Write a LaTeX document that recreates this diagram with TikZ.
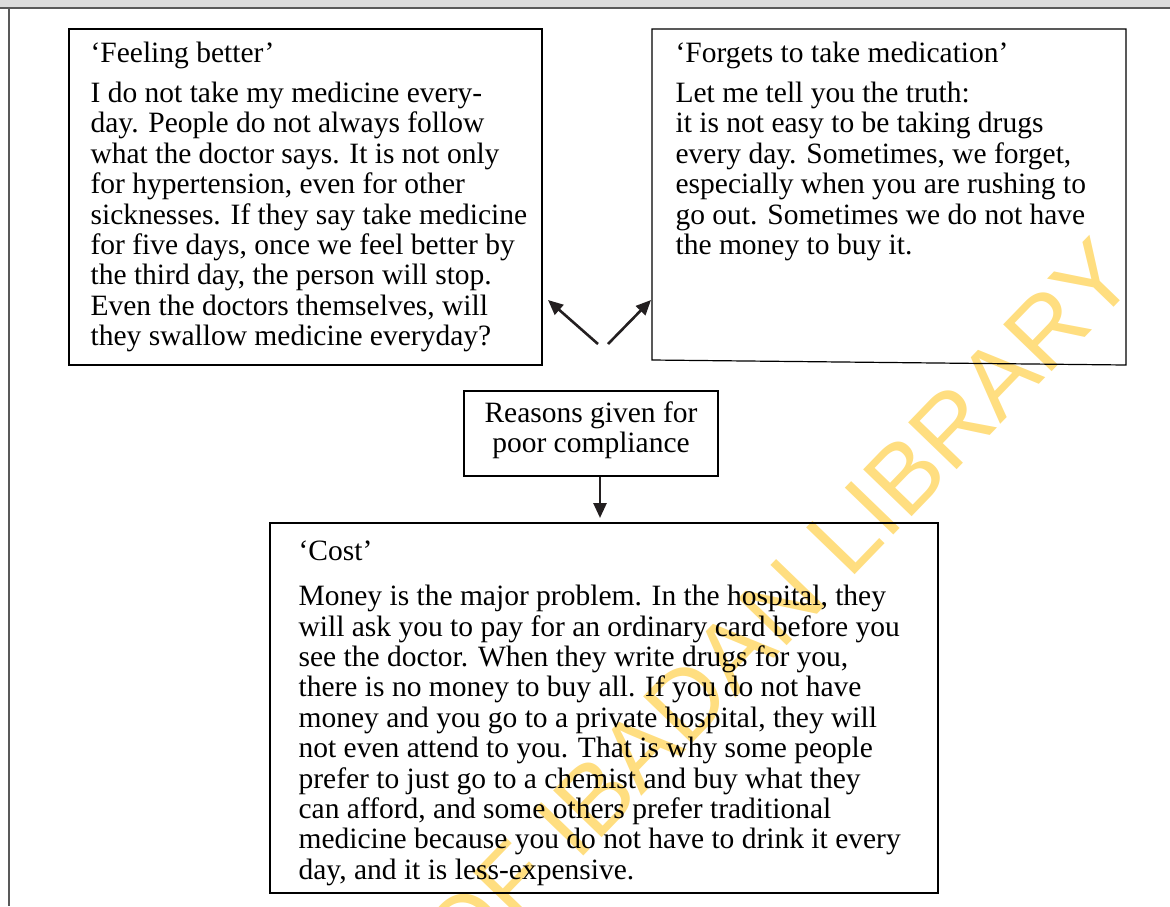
\documentclass[tikz,border=0pt]{standalone}
\usepackage{fontspec}
\setmainfont{Liberation Serif}
\newfontfamily\wmfont{Liberation Sans}
\usepackage{tikz}
\usetikzlibrary{arrows.meta}
\usetikzlibrary{calc}
\definecolor{wmyellow}{RGB}{255,222,128}
\definecolor{hdrgray}{RGB}{220,220,220}
\definecolor{arrowblack}{RGB}{35,31,32}

\begin{document}
\begin{tikzpicture}[x=1pt,y=-1pt,line width=1.2pt]

	\tikzstyle{every node}=[inner sep=0pt,font=\fontsize{29.5}{30.4}\selectfont]
	\tikzstyle{quote}=[anchor=north west,align=left]
	\tikzstyle{arr}=[-{Triangle[length=15pt,width=13pt]},line width=2.6pt,draw=arrowblack]

	\def\fbbox{(69,29) coordinate (fbnw) rectangle (542,365) coordinate (fbse)}
	\def\ftbox{(652,29) coordinate (ftnw) -- (1126,29) -- (1126,365) coordinate (ftse) -- (652,360) -- cycle}
	\def\rsbox{(464,391) coordinate (rsnw) rectangle (718,476) coordinate (rsse)}
	\def\cobox{(270,523) coordinate (conw) rectangle (938,893) coordinate (cose)}

	\useasboundingbox (0,0) rectangle (1170,906);

	% watermark
	\begin{scope}
	\clip (0,0) rectangle (1170,906);
	\node[rotate=46,anchor=base east,text=wmyellow,font=\wmfont\fontsize{98}{98}\selectfont] (wm) at (1140,280) {UNIVERSITY OF IBADAN LIBRARY};
	\end{scope}

	% page strip and frame
	\fill[hdrgray] (0,0) rectangle (1170,8);
	\draw[gray!70!black] (0,8) -- (1170,8);
	\draw[gray!70!black] (9,8) -- (9,906);

	\draw \fbbox;
	\draw \ftbox;
	\draw \rsbox;
	\draw \cobox;

	\node[quote] (fb) at ([shift={(21,12)}]fbnw) {‘Feeling better’\\[10pt]
		I do not take my medicine every-\\
		day. People do not always follow\\
		what the doctor says. It is not only\\
		for hypertension, even for other\\
		sicknesses. If they say take medicine\\
		for five days, once we feel better by\\
		the third day, the person will stop.\\
		Even the doctors themselves, will\\
		they swallow medicine everyday?};

	\node[quote] (ft) at ([shift={(23,12)}]ftnw) {‘Forgets to take medication’\\[10pt]
		Let me tell you the truth:\\
		it is not easy to be taking drugs\\
		every day. Sometimes, we forget,\\
		especially when you are rushing to\\
		go out. Sometimes we do not have\\
		the money to buy it.};

	\node[align=center] (rs) at ($(rsnw)!0.5!(rsse)+(0,-3)$) {Reasons given for\\poor compliance};

	\node[quote] (co) at ([shift={(28,17)}]conw) {‘Cost’\\[15pt]
		Money is the major problem. In the hospital, they\\
		will ask you to pay for an ordinary card before you\\
		see the doctor. When they write drugs for you,\\
		there is no money to buy all. If you do not have\\
		money and you go to a private hospital, they will\\
		not even attend to you. That is why some people\\
		prefer to just go to a chemist and buy what they\\
		can afford, and some others prefer traditional\\
		medicine because you do not have to drink it every\\
		day, and it is less-expensive.};

	% arrows
	\coordinate (fork) at (603,344);
	\coordinate (rsbot) at (600,477);
	\draw[arr] ([xshift=-5pt]fork) -- ([shift={(6,-65)}]fbse);
	\draw[arr] ([xshift=5pt]fork) -- ([shift={(-1,271)}]ftnw);
	\draw[arr] (rsbot) -- ($(rsbot |- conw)+(0,-5)$);

\end{tikzpicture}
\end{document}
